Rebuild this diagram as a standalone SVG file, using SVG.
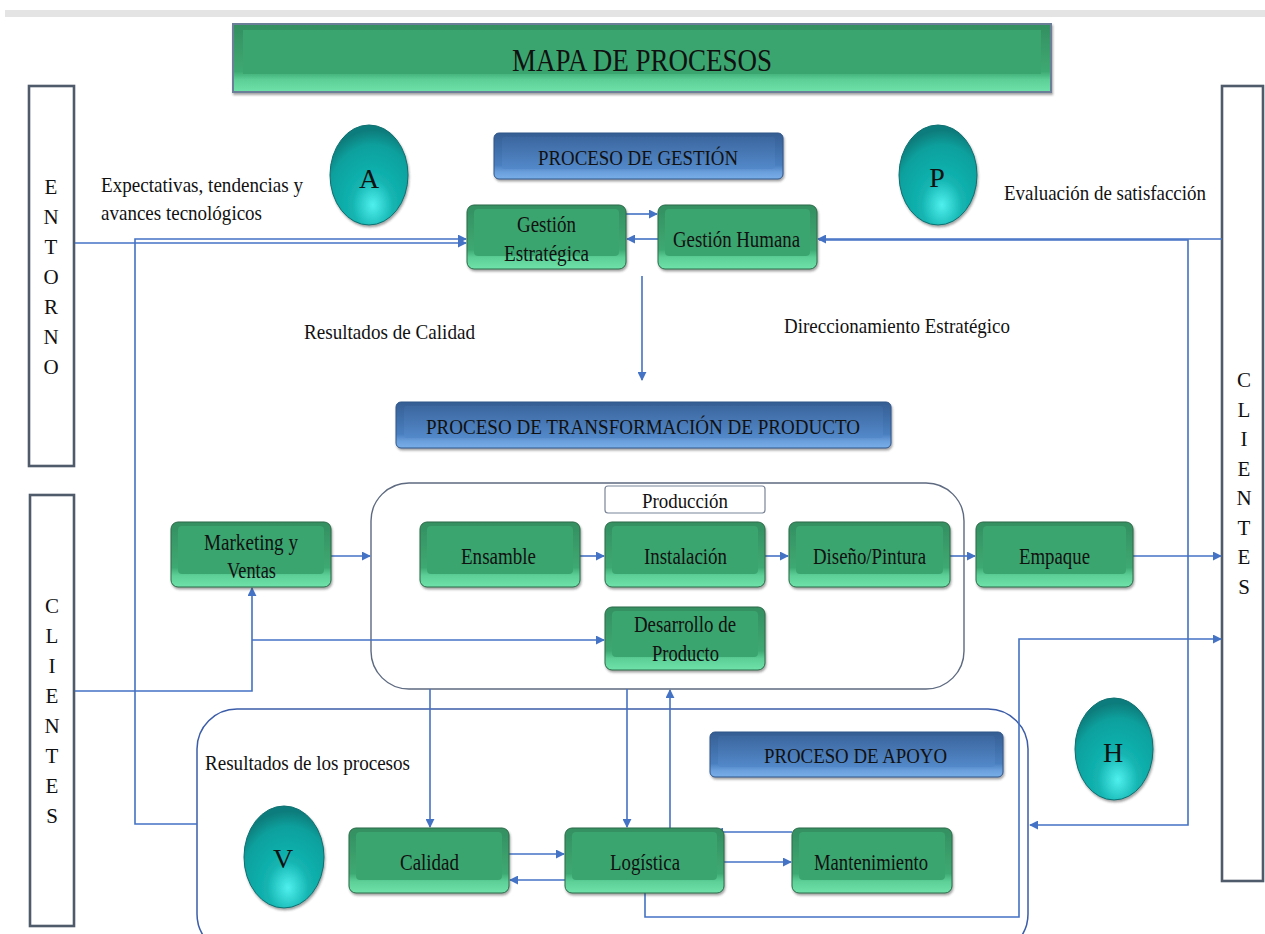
<svg xmlns="http://www.w3.org/2000/svg" width="1265" height="934" viewBox="0 0 1265 934">
<defs>
<style>
text{font-family:"Liberation Serif","Times New Roman",serif;fill:#111;}
.t{font-size:22px;}
.n{font-size:23px;}
.ttl{font-size:31px;}
.let{font-size:21px;text-anchor:middle;}
.cl{font-size:28px;text-anchor:middle;}
.gout{fill:url(#gG);stroke:#2c6a49;stroke-width:1;filter:url(#sh);}
.gin{fill:#3ba56f;}
.bout{fill:url(#gB);stroke:#30568a;stroke-width:1;filter:url(#sh);}
.bin{fill:url(#gBi);}
.side{fill:#fff;stroke:#4f5b6b;stroke-width:2.6;}
.circ{fill:url(#gT);stroke:#0b6f70;stroke-width:1;filter:url(#sh);}
.cont{fill:none;stroke:#5d6a80;stroke-width:1.4;}
.cont2{fill:none;stroke:#3b5ca8;stroke-width:1.5;}
.ln{fill:none;stroke:#4472c4;stroke-width:1.6;}
.ar{marker-end:url(#ah);}
</style>
<linearGradient id="gG" x1="0" y1="0" x2="0" y2="1">
<stop offset="0" stop-color="#348f61"/>
<stop offset="0.7" stop-color="#3ea972"/>
<stop offset="0.82" stop-color="#5ccf97"/>
<stop offset="1" stop-color="#6fe2aa"/>
</linearGradient>
<linearGradient id="gB" x1="0" y1="0" x2="0" y2="1">
<stop offset="0" stop-color="#355e93"/>
<stop offset="0.7" stop-color="#4a7fbf"/>
<stop offset="0.85" stop-color="#6a9fdc"/>
<stop offset="1" stop-color="#78aee8"/>
</linearGradient>
<linearGradient id="gBi" x1="0" y1="0" x2="0" y2="1">
<stop offset="0" stop-color="#3c679f"/>
<stop offset="1" stop-color="#5389ca"/>
</linearGradient>
<radialGradient id="gT" cx="0.55" cy="0.8" r="0.75">
<stop offset="0" stop-color="#4ff0ee"/>
<stop offset="0.35" stop-color="#13b4b1"/>
<stop offset="0.8" stop-color="#09a09d"/>
<stop offset="1" stop-color="#087c7b"/>
</radialGradient>
<filter id="sh" x="-10%" y="-10%" width="125%" height="130%">
<feDropShadow dx="1" dy="2" stdDeviation="1.2" flood-color="#333" flood-opacity="0.45"/>
</filter>
<marker id="ah" viewBox="0 0 10 10" refX="9" refY="5" markerWidth="9" markerHeight="9" markerUnits="userSpaceOnUse" orient="auto">
<path d="M0,0 L10,5 L0,10 z" fill="#4472c4"/>
</marker>
</defs>
<rect width="1265" height="934" fill="#fff"/>
<rect x="5" y="10" width="1260" height="7" fill="#e4e4e4"/>

<g id="title">
<rect x="233" y="24" width="818" height="68" fill="url(#gG)" stroke="#6c7f99" stroke-width="2" filter="url(#sh)"/>
<rect x="243" y="30" width="798" height="44" fill="#3ba56f"/>
<text class="ttl" x="512" y="71" textLength="260" lengthAdjust="spacingAndGlyphs">MAPA DE PROCESOS</text>
</g>

<g id="entorno">
<rect class="side" x="29" y="86" width="45" height="380"/>
<text class="let" x="51" y="194">E</text>
<text class="let" x="51" y="224">N</text>
<text class="let" x="51" y="254">T</text>
<text class="let" x="51" y="284">O</text>
<text class="let" x="51" y="314">R</text>
<text class="let" x="51" y="344">N</text>
<text class="let" x="51" y="374">O</text>
</g>

<g id="clientes-left">
<rect class="side" x="30" y="495" width="44" height="431"/>
<text class="let" x="52" y="613">C</text>
<text class="let" x="52" y="643">L</text>
<text class="let" x="52" y="673">I</text>
<text class="let" x="52" y="703">E</text>
<text class="let" x="52" y="733">N</text>
<text class="let" x="52" y="763">T</text>
<text class="let" x="52" y="793">E</text>
<text class="let" x="52" y="823">S</text>
</g>

<g id="clientes-right">
<rect class="side" x="1222" y="86" width="41" height="795"/>
<text class="let" x="1244" y="387">C</text>
<text class="let" x="1244" y="417">L</text>
<text class="let" x="1244" y="446">I</text>
<text class="let" x="1244" y="476">E</text>
<text class="let" x="1244" y="505">N</text>
<text class="let" x="1244" y="535">T</text>
<text class="let" x="1244" y="564">E</text>
<text class="let" x="1244" y="594">S</text>
</g>

<g id="containers">
<rect class="cont" x="371" y="483" width="593" height="206" rx="38"/>
<rect class="cont2" x="197" y="709" width="831" height="245" rx="40"/>
</g>

<g id="labels">
<text class="t" x="101" y="192" textLength="202" lengthAdjust="spacingAndGlyphs">Expectativas, tendencias y</text>
<text class="t" x="101" y="220" textLength="161" lengthAdjust="spacingAndGlyphs">avances tecnológicos</text>
<text class="t" x="1004" y="200" textLength="202" lengthAdjust="spacingAndGlyphs">Evaluación de satisfacción</text>
<text class="t" x="304" y="339" textLength="171" lengthAdjust="spacingAndGlyphs">Resultados de Calidad</text>
<text class="t" x="784" y="333" textLength="226" lengthAdjust="spacingAndGlyphs">Direccionamiento Estratégico</text>
<text class="t" x="205" y="770" textLength="205" lengthAdjust="spacingAndGlyphs">Resultados de los procesos</text>
</g>

<g id="connectors">
<path class="ln ar" d="M75 243 H466"/>
<path class="ln ar" d="M197 824 H135 V239 H466"/>
<path class="ln ar" d="M626 214 H657"/>
<path class="ln ar" d="M658 239 H627"/>
<path class="ln ar" d="M1222 239 H818"/>
<path class="ln ar" d="M819 240 H1188 V825 H1030"/>
<path class="ln ar" d="M642 276 V380"/>
<path class="ln ar" d="M331 556 H370"/>
<path class="ln ar" d="M580 556 H604"/>
<path class="ln ar" d="M765 556 H788"/>
<path class="ln ar" d="M950 556 H975"/>
<path class="ln ar" d="M1133 556 H1221"/>
<path class="ln ar" d="M75 691 H252 V588"/>
<path class="ln ar" d="M252 640 H604"/>
<path class="ln ar" d="M430 689 V827"/>
<path class="ln ar" d="M627 689 V827"/>
<path class="ln ar" d="M670 828 V690"/>
<path class="ln ar" d="M509 854 H564"/>
<path class="ln ar" d="M565 880 H510"/>
<path class="ln ar" d="M724 862 H791"/>
<path class="ln ar" d="M792 832 H715"/>
<path class="ln ar" d="M645 893 V917 H1019 V639 H1221"/>
</g>

<g id="proceso-gestion">
<rect class="bout" x="494" y="133" width="289" height="46" rx="5"/>
<rect class="bin" x="502" y="137" width="273" height="32" rx="3"/>
<text class="t" x="538" y="165" textLength="200" lengthAdjust="spacingAndGlyphs">PROCESO DE GESTIÓN</text>
</g>

<g id="gestion-estrategica">
<rect class="gout" x="467" y="205" width="159" height="64" rx="7"/>
<rect class="gin" x="474" y="209" width="145" height="47" rx="4"/>
<text class="n" x="517" y="232" textLength="59" lengthAdjust="spacingAndGlyphs">Gestión</text>
<text class="n" x="504" y="261" textLength="85" lengthAdjust="spacingAndGlyphs">Estratégica</text>
</g>

<g id="gestion-humana">
<rect class="gout" x="658" y="205" width="159" height="64" rx="7"/>
<rect class="gin" x="665" y="209" width="145" height="47" rx="4"/>
<text class="n" x="673" y="247" textLength="127" lengthAdjust="spacingAndGlyphs">Gestión Humana</text>
</g>

<g id="circle-a">
<ellipse class="circ" cx="369" cy="175" rx="39" ry="50"/>
<text class="cl" x="369" y="188">A</text>
</g>
<g id="circle-p">
<ellipse class="circ" cx="938" cy="175" rx="39" ry="50"/>
<text class="cl" x="937" y="187">P</text>
</g>
<g id="circle-h">
<ellipse class="circ" cx="1114" cy="749" rx="39" ry="51"/>
<text class="cl" x="1113" y="762">H</text>
</g>
<g id="circle-v">
<ellipse class="circ" cx="284" cy="857" rx="40" ry="51"/>
<text class="cl" x="283" y="868">V</text>
</g>

<g id="proceso-transformacion">
<rect class="bout" x="396" y="402" width="495" height="46" rx="5"/>
<rect class="bin" x="404" y="406" width="479" height="32" rx="3"/>
<text class="t" x="426" y="434" textLength="434" lengthAdjust="spacingAndGlyphs">PROCESO DE TRANSFORMACIÓN DE PRODUCTO</text>
</g>

<g id="produccion">
<rect x="605" y="486" width="160" height="27" rx="3" fill="#fff" stroke="#7a8597" stroke-width="1.2"/>
<text class="t" x="642" y="508" textLength="86" lengthAdjust="spacingAndGlyphs">Producción</text>
</g>

<g id="marketing">
<rect class="gout" x="171" y="522" width="160" height="65" rx="7"/>
<rect class="gin" x="178" y="526" width="146" height="48" rx="4"/>
<text class="n" x="204" y="550" textLength="94" lengthAdjust="spacingAndGlyphs">Marketing y</text>
<text class="n" x="227" y="578" textLength="49" lengthAdjust="spacingAndGlyphs">Ventas</text>
</g>

<g id="ensamble">
<rect class="gout" x="420" y="522" width="160" height="65" rx="7"/>
<rect class="gin" x="427" y="526" width="146" height="48" rx="4"/>
<text class="n" x="461" y="564" textLength="75" lengthAdjust="spacingAndGlyphs">Ensamble</text>
</g>

<g id="instalacion">
<rect class="gout" x="605" y="522" width="160" height="65" rx="7"/>
<rect class="gin" x="612" y="526" width="146" height="48" rx="4"/>
<text class="n" x="644" y="564" textLength="83" lengthAdjust="spacingAndGlyphs">Instalación</text>
</g>

<g id="diseno">
<rect class="gout" x="789" y="522" width="161" height="65" rx="7"/>
<rect class="gin" x="796" y="526" width="147" height="48" rx="4"/>
<text class="n" x="813" y="564" textLength="113" lengthAdjust="spacingAndGlyphs">Diseño/Pintura</text>
</g>

<g id="empaque">
<rect class="gout" x="976" y="522" width="157" height="65" rx="7"/>
<rect class="gin" x="983" y="526" width="143" height="48" rx="4"/>
<text class="n" x="1019" y="564" textLength="71" lengthAdjust="spacingAndGlyphs">Empaque</text>
</g>

<g id="desarrollo">
<rect class="gout" x="605" y="607" width="160" height="63" rx="7"/>
<rect class="gin" x="612" y="611" width="146" height="46" rx="4"/>
<text class="n" x="634" y="632" textLength="102" lengthAdjust="spacingAndGlyphs">Desarrollo de</text>
<text class="n" x="652" y="661" textLength="67" lengthAdjust="spacingAndGlyphs">Producto</text>
</g>

<g id="proceso-apoyo">
<rect class="bout" x="710" y="732" width="293" height="45" rx="5"/>
<rect class="bin" x="718" y="736" width="277" height="31" rx="3"/>
<text class="t" x="764" y="763" textLength="183" lengthAdjust="spacingAndGlyphs">PROCESO DE APOYO</text>
</g>

<g id="calidad">
<rect class="gout" x="349" y="828" width="160" height="65" rx="7"/>
<rect class="gin" x="356" y="832" width="146" height="48" rx="4"/>
<text class="n" x="400" y="870" textLength="59" lengthAdjust="spacingAndGlyphs">Calidad</text>
</g>

<g id="logistica">
<rect class="gout" x="565" y="828" width="159" height="65" rx="7"/>
<rect class="gin" x="572" y="832" width="145" height="48" rx="4"/>
<text class="n" x="610" y="870" textLength="70" lengthAdjust="spacingAndGlyphs">Logística</text>
</g>

<g id="mantenimiento">
<rect class="gout" x="792" y="828" width="160" height="65" rx="7"/>
<rect class="gin" x="799" y="832" width="146" height="48" rx="4"/>
<text class="n" x="814" y="870" textLength="114" lengthAdjust="spacingAndGlyphs">Mantenimiento</text>
</g>
</svg>
